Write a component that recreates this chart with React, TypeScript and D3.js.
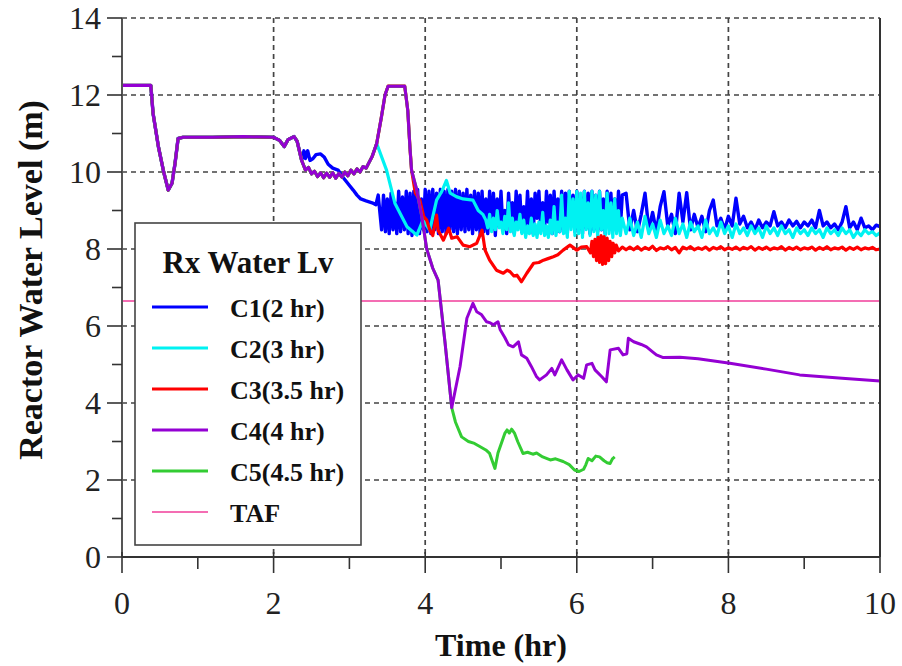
import React, { useEffect, useRef } from 'react';
import * as d3 from 'd3';

type P = [number, number];

// Shared start of all cases (time hr, level m)
const prefix: P[] = [
  [0, 12.25], [0.38, 12.25], [0.41, 11.52], [0.48, 10.66], [0.55, 10.0], [0.61, 9.53],
  [0.66, 9.71], [0.7, 10.23], [0.74, 10.87], [0.8, 10.9], [1.2, 10.9], [1.6, 10.92],
  [2.0, 10.9], [2.08, 10.82], [2.14, 10.66], [2.19, 10.84], [2.27, 10.92], [2.31, 10.8],
  [2.37, 10.3],
];

// C1 own early segment
const c1Own: P[] = [
  [2.4, 10.55], [2.42, 10.35], [2.45, 10.55], [2.48, 10.3], [2.52, 10.35], [2.56, 10.45],
  [2.62, 10.47], [2.67, 10.38], [2.72, 10.2], [2.78, 10.1], [2.85, 10.05], [2.92, 9.85],
  [2.98, 9.7], [3.05, 9.53], [3.1, 9.4], [3.15, 9.3], [3.22, 9.25], [3.3, 9.2],
  [3.35, 9.15], [3.38, 9.4],
];

const oscStep = 0.025;
const lateStep = 0.05;

const c1OscStart = 3.4;
const c1Osc = [
  9.0, 8.5, 9.4, 8.45, 9.3, 8.4, 9.45, 8.5, 9.2, 8.4, 9.5, 8.45, 9.35, 8.5, 9.5, 8.4,
  9.45, 8.35, 9.5, 8.45, 9.55, 8.4, 9.3, 8.5, 9.55, 8.45, 9.5, 8.4, 9.55, 8.5, 9.45, 8.4,
  9.55, 8.45, 9.5, 8.4, 9.55, 8.5, 9.5, 8.45, 9.55, 8.4, 9.5, 8.5, 9.45, 8.45, 9.55, 8.5,
  9.4, 8.4, 9.5, 8.5, 9.45, 8.35, 9.5, 8.45, 9.3, 8.4, 9.5, 8.5, 9.45, 8.35, 9.3, 8.6,
  9.5, 8.5, 9.0, 8.4, 9.45, 8.7, 9.2, 8.4, 9.5, 8.6, 9.4, 8.45, 9.1, 8.5, 9.5, 8.6,
  9.3, 8.4, 9.45, 8.8, 9.5, 8.5, 9.2, 8.45, 9.5, 8.7, 9.4, 8.4, 9.5, 8.6, 9.3, 8.45,
  9.5, 8.5, 9.45, 8.4, 9.5, 8.6, 9.4, 8.45, 9.5, 8.5, 9.35, 8.4, 9.5, 8.55, 9.45, 8.4,
  9.5, 8.5, 9.4, 8.45, 9.5, 8.5, 9.3, 8.4, 9.5, 8.6, 9.45, 8.5, 9.3, 8.45, 9.5, 8.55,
  9.4,
];
const c1LateStart = 6.65;
const c1Late = [
  9.45, 8.5, 9.0, 8.45, 8.9, 9.45, 8.5, 8.95, 8.45, 9.1, 9.49, 8.6, 8.9, 8.4, 9.45, 8.7,
  9.46, 8.5, 8.9, 8.55, 8.85, 8.45, 9.0, 9.27, 8.6, 8.8, 8.5, 8.85, 8.6, 9.32, 8.65, 8.85,
  8.55, 8.7, 8.5, 8.75, 8.55, 8.7, 8.6, 8.97, 8.6, 8.7, 8.55, 8.75, 8.6, 8.72, 8.55, 8.7,
  8.6, 8.75, 8.55, 9.0, 8.6, 8.7, 8.55, 8.65, 8.5, 8.7, 9.1, 8.55, 8.7, 8.5, 8.8, 8.55,
  8.6, 8.5, 8.62, 8.58,
];

// C4 plateau segment shared by C2..C5
const c4Mid: P[] = [
  [2.42, 10.05], [2.46, 10.12], [2.5, 9.95], [2.54, 10.02], [2.58, 9.88], [2.62, 9.98],
  [2.66, 9.85], [2.7, 9.97], [2.74, 9.86], [2.78, 9.98], [2.82, 9.84], [2.86, 9.96],
  [2.9, 9.87], [2.94, 10.0], [2.98, 9.9], [3.02, 10.05], [3.06, 9.95], [3.1, 10.08],
  [3.14, 10.0], [3.18, 10.14], [3.22, 10.1], [3.26, 10.25], [3.3, 10.4], [3.36, 10.74],
];

const c2Own: P[] = [
  [3.49, 10.05], [3.6, 9.19], [3.76, 8.58], [3.89, 8.36], [3.97, 8.75], [4.06, 8.49],
  [4.15, 9.27], [4.22, 9.5], [4.28, 9.78], [4.33, 9.45], [4.41, 9.36], [4.5, 9.3],
  [4.63, 9.27], [4.7, 9.0], [4.76, 8.9],
];
const c2OscStart = 4.8;
const c2Osc = [
  8.75, 8.55, 8.9, 8.45, 8.8, 8.5, 9.0, 8.55, 8.7, 8.4, 8.85, 8.5, 9.2, 8.45, 8.8, 8.35,
  8.7, 8.5, 8.9, 8.4, 8.75, 8.3, 8.6, 8.4, 8.8, 8.35, 8.65, 8.3, 8.7, 8.4, 8.95, 8.35,
  8.6, 8.3, 8.75, 8.4, 9.1, 8.35, 8.7, 8.45, 9.4, 8.4, 8.8, 8.3, 9.5, 8.5, 9.3, 8.35,
  9.5, 8.4, 9.45, 8.3, 9.5, 8.5, 9.2, 8.35, 9.5, 8.45, 9.4, 8.3, 9.5, 8.5, 9.0, 8.35,
  9.45, 8.4, 9.2, 8.3, 9.3, 8.4, 9.0, 8.35, 8.8,
];
const c2LateStart = 6.65;
const c2Late = [
  8.4, 8.8, 8.35, 8.7, 8.3, 8.85, 8.4, 8.65, 8.3, 8.75, 8.4, 8.6, 8.35, 8.8, 8.4, 8.65,
  8.3, 8.7, 8.45, 8.6, 8.3, 8.75, 8.4, 8.55, 8.35, 8.7, 8.4, 8.6, 8.3, 8.65, 8.4, 8.55,
  8.35, 8.6, 8.4, 8.55, 8.3, 8.6, 8.4, 8.55, 8.35, 8.6, 8.4, 8.5, 8.3, 8.55, 8.4, 8.5,
  8.35, 8.55, 8.4, 8.5, 8.3, 8.55, 8.4, 8.5, 8.35, 8.55, 8.4, 8.5, 8.3, 8.45, 8.35, 8.5,
  8.4, 8.45, 8.35, 8.42,
];

const c4Peak: P[] = [
  [3.42, 11.4], [3.47, 12.0], [3.51, 12.23], [3.73, 12.23], [3.77, 11.6], [3.8, 10.6], [3.82, 10.05],
];

const c3Own: P[] = [
  [3.87, 9.45], [3.93, 9.27], [3.98, 8.84], [4.02, 8.75], [4.06, 8.5], [4.1, 8.35],
  [4.15, 8.88], [4.17, 8.49], [4.24, 8.23], [4.31, 8.54], [4.35, 8.28], [4.42, 8.32],
  [4.5, 8.1], [4.59, 8.06], [4.68, 8.15], [4.75, 8.49], [4.79, 7.97], [4.85, 7.71],
  [4.94, 7.45], [5.03, 7.37], [5.08, 7.45], [5.12, 7.41], [5.17, 7.3], [5.21, 7.32],
  [5.27, 7.15], [5.34, 7.37], [5.43, 7.63], [5.5, 7.65], [5.56, 7.71], [5.62, 7.75],
  [5.69, 7.8], [5.75, 7.85], [5.82, 7.97], [5.91, 8.1], [6.0, 7.97], [6.06, 8.05],
  [6.13, 8.06], [6.18, 7.9], [6.2, 8.2], [6.22, 7.8], [6.24, 8.25], [6.26, 7.7],
  [6.28, 8.3], [6.3, 7.65], [6.32, 8.35], [6.34, 7.6], [6.36, 8.32], [6.38, 7.62],
  [6.4, 8.28], [6.42, 7.7], [6.44, 8.2], [6.46, 7.8], [6.48, 8.15], [6.5, 7.9],
  [6.52, 8.1], [6.55, 7.95], [6.6, 8.05], [6.65, 7.98],
];
const c3LateStart = 6.7;
const c3Late = [
  8.05, 7.98, 8.06, 7.97, 8.04, 7.99, 8.07, 7.96, 8.03, 8.0, 8.06, 7.98, 8.04, 7.9, 8.05, 8.0,
  8.06, 7.98, 8.03, 7.99, 8.05, 7.97, 8.04, 8.0, 8.06, 7.98, 8.03, 7.99, 8.05, 7.98, 8.04, 8.0,
  8.06, 7.97, 8.04, 7.99, 8.05, 7.98, 8.03, 8.0, 8.06, 7.97, 8.04, 7.99, 8.05, 7.98, 8.03, 8.0,
  8.05, 7.97, 8.04, 7.99, 8.06, 7.98, 8.03, 8.0, 8.05, 7.97, 8.04, 7.99, 8.05, 7.98, 8.03, 8.0,
  8.04, 7.98, 8.0,
];

const c4Fall: P[] = [
  [3.88, 9.6], [3.95, 8.9], [4.02, 8.0], [4.1, 7.5], [4.17, 7.19], [4.26, 5.6], [4.35, 3.88],
];
const c4Own: P[] = [
  [4.46, 4.95], [4.55, 6.2], [4.63, 6.59], [4.68, 6.37], [4.74, 6.3], [4.81, 6.11],
  [4.86, 6.08], [4.9, 6.03], [4.96, 6.11], [4.99, 5.9], [5.05, 5.7], [5.1, 5.51],
  [5.16, 5.46], [5.23, 5.59], [5.27, 5.25], [5.34, 5.16], [5.4, 4.95], [5.47, 4.68],
  [5.51, 4.6], [5.6, 4.73], [5.67, 4.9], [5.71, 4.73], [5.8, 5.12], [5.87, 4.86],
  [5.95, 4.6], [6.02, 4.73], [6.09, 4.64], [6.13, 4.99], [6.2, 5.03], [6.24, 4.86],
  [6.33, 4.68], [6.39, 4.55], [6.44, 5.38], [6.55, 5.42], [6.61, 5.25], [6.66, 5.28],
  [6.68, 5.68], [6.75, 5.59], [6.85, 5.52], [6.92, 5.46], [7.0, 5.33], [7.05, 5.25],
  [7.14, 5.18], [7.36, 5.19], [7.6, 5.15], [8.02, 5.03], [8.5, 4.88], [8.94, 4.73],
  [9.5, 4.64], [10.0, 4.57],
];
const c5Own: P[] = [
  [4.4, 3.5], [4.48, 3.12], [4.57, 3.0], [4.65, 2.95], [4.72, 2.87], [4.8, 2.78],
  [4.85, 2.69], [4.92, 2.3], [4.96, 2.7], [4.99, 2.87], [5.05, 3.21], [5.08, 3.3],
  [5.11, 3.22], [5.14, 3.32], [5.18, 3.21], [5.22, 3.0], [5.29, 2.69], [5.35, 2.72],
  [5.42, 2.67], [5.47, 2.7], [5.55, 2.6], [5.65, 2.52], [5.72, 2.55], [5.82, 2.48],
  [5.9, 2.4], [5.97, 2.26], [6.03, 2.22], [6.09, 2.28], [6.12, 2.4], [6.15, 2.56],
  [6.2, 2.5], [6.25, 2.62], [6.3, 2.6], [6.36, 2.5], [6.4, 2.45], [6.44, 2.43],
  [6.47, 2.55], [6.5, 2.6],
];

const tafLevel = 6.65;
const seriesNames = ['C1(2 hr)', 'C2(3 hr)', 'C3(3.5 hr)', 'C4(4 hr)', 'C5(4.5 hr)', 'TAF'];
const seriesColors = ['#0000ff', '#00f2f2', '#ff0000', '#9400d3', '#33cc33', '#f03c9a'];
const xTicks = [0, 2, 4, 6, 8, 10];
const xMinor = [1, 3, 5, 7, 9];
const yTicks = [0, 2, 4, 6, 8, 10, 12, 14];
const yMinor = [1, 3, 5, 7, 9, 11, 13];

const sampled = (start: number, step: number, vals: number[]): P[] =>
  vals.map((v, i) => [start + i * step, v] as P);

export default function App() {
  const ref = useRef<SVGSVGElement>(null);
  useEffect(() => {
    const svg = d3.select(ref.current);
    svg.selectAll('*').remove();
    const L = 122, R = 880, T = 18, B = 557;
    const x = d3.scaleLinear().domain([0, 10]).range([L, R]);
    const y = d3.scaleLinear().domain([0, 14]).range([B, T]);
    const font = "'Liberation Serif', 'Times New Roman', serif";
    const grid = '#444';

    svg.append('rect').attr('width', 902).attr('height', 666).attr('fill', '#fff');

    // grid
    const g = svg.append('g');
    g.selectAll('line.hg').data(yTicks.filter(v => v > 0)).join('line')
      .attr('x1', L).attr('x2', R).attr('y1', d => y(d)).attr('y2', d => y(d))
      .attr('stroke', grid).attr('stroke-width', 1.7).attr('stroke-dasharray', '5,4');
    g.selectAll('line.vg').data(xTicks.filter(v => v > 0 && v < 10)).join('line')
      .attr('y1', T).attr('y2', B).attr('x1', d => x(d)).attr('x2', d => x(d))
      .attr('stroke', grid).attr('stroke-width', 1.7).attr('stroke-dasharray', '5,4');

    // TAF
    svg.append('line').attr('x1', L).attr('x2', R).attr('y1', y(tafLevel)).attr('y2', y(tafLevel))
      .attr('stroke', seriesColors[5]).attr('stroke-width', 1.3);

    const c1 = [...prefix, ...c1Own, ...sampled(c1OscStart, oscStep, c1Osc), ...sampled(c1LateStart, lateStep, c1Late)];
    const c2 = [...prefix, ...c4Mid, ...c2Own, ...sampled(c2OscStart, oscStep, c2Osc), ...sampled(c2LateStart, lateStep, c2Late)];
    const c3 = [...prefix, ...c4Mid, ...c4Peak, ...c3Own, ...sampled(c3LateStart, lateStep, c3Late)];
    const c4 = [...prefix, ...c4Mid, ...c4Peak, ...c4Fall, ...c4Own];
    const c5 = [...prefix, ...c4Mid, ...c4Peak, ...c4Fall, ...c5Own];

    const line = d3.line<P>().x(d => x(d[0])).y(d => y(d[1]));
    const order: [P[], number, number][] = [[c1, 0, 3.4], [c2, 1, 3.2], [c3, 2, 3.2], [c5, 4, 3], [c4, 3, 3]];
    order.forEach(([d, i, w]) => {
      svg.append('path').attr('d', line(d)!).attr('fill', 'none')
        .attr('stroke', seriesColors[i]).attr('stroke-width', w)
        .attr('stroke-linejoin', 'round');
    });

    // frame
    svg.append('line').attr('x1', R).attr('x2', R).attr('y1', T).attr('y2', B)
      .attr('stroke', '#333').attr('stroke-width', 2);
    svg.append('line').attr('x1', L).attr('x2', L).attr('y1', T).attr('y2', B)
      .attr('stroke', '#555').attr('stroke-width', 2);
    svg.append('line').attr('x1', L).attr('x2', R).attr('y1', B).attr('y2', B)
      .attr('stroke', '#333').attr('stroke-width', 2);

    // y ticks
    svg.selectAll('line.yt').data(yTicks).join('line')
      .attr('x1', L - 15).attr('x2', L).attr('y1', d => y(d)).attr('y2', d => y(d))
      .attr('stroke', '#333').attr('stroke-width', 1.6);
    svg.selectAll('line.ym').data(yMinor).join('line')
      .attr('x1', L - 10).attr('x2', L).attr('y1', d => y(d)).attr('y2', d => y(d))
      .attr('stroke', '#333').attr('stroke-width', 1.6);
    svg.selectAll('text.yl').data(yTicks).join('text')
      .attr('x', L - 21).attr('y', d => y(d) + 11).attr('text-anchor', 'end')
      .attr('font-family', font).attr('font-size', 32).attr('fill', '#222')
      .text(d => String(d));

    // x ticks
    svg.selectAll('line.xt').data(xTicks).join('line')
      .attr('x1', d => x(d)).attr('x2', d => x(d)).attr('y1', B - 5).attr('y2', B + 16)
      .attr('stroke', '#333').attr('stroke-width', 1.6);
    svg.selectAll('line.xm').data(xMinor).join('line')
      .attr('x1', d => x(d)).attr('x2', d => x(d)).attr('y1', B).attr('y2', B + 12)
      .attr('stroke', '#333').attr('stroke-width', 1.6);
    svg.selectAll('text.xl').data(xTicks).join('text')
      .attr('x', d => x(d)).attr('y', 614).attr('text-anchor', 'middle')
      .attr('font-family', font).attr('font-size', 32).attr('fill', '#222')
      .text(d => String(d));

    svg.append('text').attr('x', 501).attr('y', 656).attr('text-anchor', 'middle')
      .attr('font-family', font).attr('font-size', 32).attr('font-weight', 'bold').attr('fill', '#111')
      .text('Time (hr)');
    svg.append('text').attr('transform', 'translate(42,280) rotate(-90)').attr('text-anchor', 'middle')
      .attr('font-family', font).attr('font-size', 34).attr('font-weight', 'bold').attr('fill', '#111')
      .text('Reactor Water Level (m)');

    // legend
    const lg = svg.append('g');
    lg.append('rect').attr('x', 135).attr('y', 223).attr('width', 226).attr('height', 322)
      .attr('fill', '#fff').attr('stroke', '#444').attr('stroke-width', 1.6);
    lg.append('text').attr('x', 248).attr('y', 273).attr('text-anchor', 'middle')
      .attr('font-family', font).attr('font-size', 31).attr('font-weight', 'bold').attr('fill', '#111')
      .text('Rx Water Lv');
    seriesNames.forEach((name, i) => {
      const yy = 307 + i * 41;
      lg.append('line').attr('x1', 152).attr('x2', 208).attr('y1', yy).attr('y2', yy)
        .attr('stroke', seriesColors[i]).attr('stroke-width', i === 5 ? 1.3 : 3);
      lg.append('text').attr('x', 230).attr('y', yy + 10)
        .attr('font-family', font).attr('font-size', 26).attr('font-weight', 'bold').attr('fill', '#111')
        .text(name);
    });
  }, []);
  return (
    <svg ref={ref} width={902} height={666}
      style={{ position: 'absolute', left: 0, top: 0, display: 'block' }} />
  );
}
